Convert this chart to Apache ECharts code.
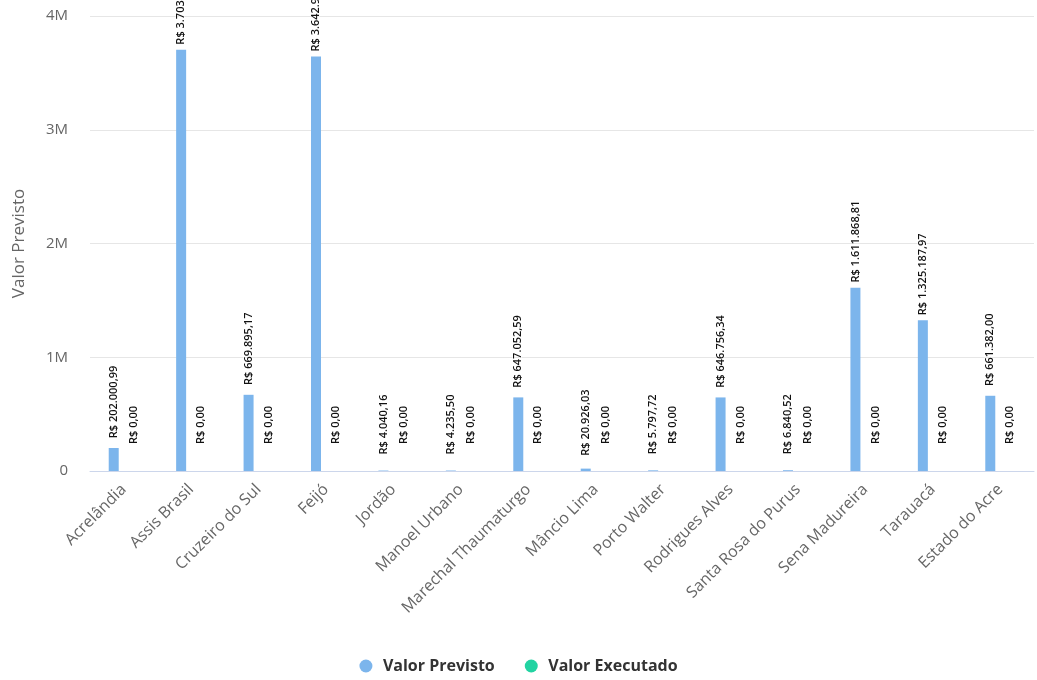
<!DOCTYPE html>
<html>
<head>
<meta charset="utf-8">
<script src="https://cdn.jsdelivr.net/npm/echarts@6/dist/echarts.min.js"></script>
<style>html,body{margin:0;padding:0;background:#fff}#c{width:1037px;height:680px}</style>
</head>
<body>
<div id="c"></div>
<script>
const categories = ["Acrelândia","Assis Brasil","Cruzeiro do Sul","Feijó","Jordão","Manoel Urbano","Marechal Thaumaturgo","Mâncio Lima","Porto Walter","Rodrigues Alves","Santa Rosa do Purus","Sena Madureira","Tarauacá","Estado do Acre"];
const valorPrevisto = [202000.99, 3703500.00, 669895.17, 3642950.00, 4040.16, 4235.50, 647052.59, 20926.03, 5797.72, 646756.34, 6840.52, 1611868.81, 1325187.97, 661382.00];
const valorExecutado = [0,0,0,0,0,0,0,0,0,0,0,0,0,0];
const seriesNames = ["Valor Previsto","Valor Executado"];

function brl(v){
  return 'R$ ' + v.toLocaleString('pt-BR',{minimumFractionDigits:2,maximumFractionDigits:2});
}
const FONT = '"Open Sans", "DejaVu Sans", sans-serif';
const labelCfg = {
  show: true, position: 'top', rotate: 90, align: 'center', verticalAlign: 'middle',
  distance: 46, fontSize: 11, fontWeight: 600, color: '#111', fontFamily: FONT,
  textBorderColor: '#fff', textBorderWidth: 1,
  formatter: p => brl(p.value)
};
const chart = echarts.init(document.getElementById('c'));
chart.setOption({
  animation: false,
  textStyle: { fontFamily: FONT },
  grid: { left: 90, right: 3, top: 16, bottom: 209, containLabel: false },
  legend: {
    bottom: 1, left: 'center', icon: 'circle', itemWidth: 24, itemHeight: 13, itemGap: 30,
    textStyle: { fontSize: 16, fontWeight: 'bold', color: '#333', fontFamily: FONT },
    data: seriesNames
  },
  xAxis: {
    type: 'category', data: categories,
    axisLine: { lineStyle: { color: '#ccd6eb' } },
    axisTick: { show: false },
    axisLabel: { rotate: 45, fontSize: 16, color: '#666', margin: 16, interval: 0, fontFamily: FONT }
  },
  yAxis: {
    type: 'value', min: 0, max: 4000000, interval: 1000000,
    name: 'Valor Previsto', nameLocation: 'middle', nameGap: 62,
    nameTextStyle: { fontSize: 17, color: '#666', fontFamily: FONT },
    axisLabel: { fontSize: 15, color: '#666', margin: 22, fontFamily: FONT,
      formatter: v => v === 0 ? '0' : (v/1e6) + 'M' },
    splitLine: { lineStyle: { color: '#e6e6e6' } },
    axisLine: { show: false }, axisTick: { show: false }
  },
  series: [
    { name: seriesNames[0], type: 'bar', data: valorPrevisto, barWidth: 10, barGap: '100%',
      itemStyle: { color: '#7cb5ec' }, label: labelCfg },
    { name: seriesNames[1], type: 'bar', data: valorExecutado, barWidth: 10,
      itemStyle: { color: '#22d3a2' }, label: labelCfg }
  ]
});
</script>
</body>
</html>
